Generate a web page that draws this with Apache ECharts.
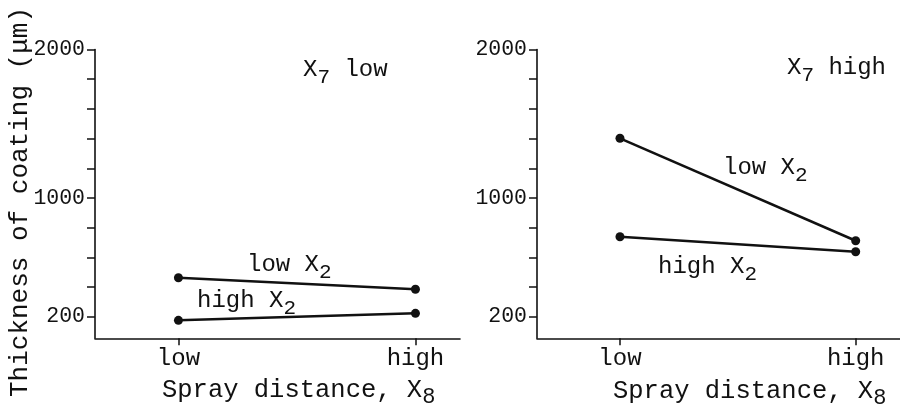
<!DOCTYPE html>
<html>
<head>
<meta charset="utf-8">
<script src="https://cdn.jsdelivr.net/npm/echarts@6/dist/echarts.min.js"></script>
<style>
html,body{margin:0;padding:0;background:#fff;}
#c{width:900px;height:408px;}
</style>
</head>
<body>
<div id="c"></div>
<script>
// ---- data ----
const xCategories = ['low', 'high'];           // spray distance X8 levels
const xPositions = [0, 1];
const yTickValues = [200, 400, 600, 800, 1000, 1200, 1400, 1600, 1800, 2000];
const yLabelValues = [200, 1000, 2000];
// Panel 1: X7 low
const leftLowX2 = [463, 385];
const leftHighX2 = [176, 223];
// Panel 2: X7 high
const rightLowX2 = [1402, 712];
const rightHighX2 = [739, 638];

const FONT = '"Liberation Mono", "DejaVu Sans Mono", monospace';
const BLACK = '#111';

const chart = echarts.init(document.getElementById('c'), null, {renderer: 'canvas'});

function xAxisCfg(gi) {
  return {
    gridIndex: gi, type: 'value', min: -0.352, max: 1.188,
    axisLine: {show: true, onZero: false, lineStyle: {color: BLACK, width: 1.6}},
    axisTick: {show: true, customValues: xPositions, length: 7, lineStyle: {color: BLACK, width: 1.5}},
    axisLabel: {customValues: xPositions, formatter: v => xCategories[Math.round(v)],
      fontFamily: FONT, fontSize: 24, color: BLACK, margin: 8},
    splitLine: {show: false}
  };
}
function yAxisCfg(gi) {
  return {
    gridIndex: gi, type: 'value', min: 55, max: 2000,
    axisLine: {show: true, onZero: false, lineStyle: {color: BLACK, width: 1.6}},
    axisTick: {show: true, customValues: yTickValues, length: 8, lineStyle: {color: BLACK, width: 1.5}},
    axisLabel: {customValues: yLabelValues, formatter: v => String(v),
      fontFamily: FONT, fontSize: 21.5, color: BLACK, margin: 10},
    splitLine: {show: false}
  };
}
function lineSeries(gi, vals) {
  return {
    type: 'line', xAxisIndex: gi, yAxisIndex: gi,
    data: xPositions.map((x, i) => [x, vals[i]]),
    symbol: 'circle', symbolSize: 9, showSymbol: true,
    lineStyle: {color: BLACK, width: 2.5},
    itemStyle: {color: BLACK},
    animation: false
  };
}

const rich = {
  n: {fontFamily: FONT, fontSize: 24, color: BLACK, verticalAlign: 'top', lineHeight: 24},
  s: {fontFamily: FONT, fontSize: 21, color: BLACK, verticalAlign: 'top', lineHeight: 21, padding: [9, 0, 0, 0]},
  N: {fontFamily: FONT, fontSize: 25.5, color: BLACK, verticalAlign: 'top', lineHeight: 26},
  S: {fontFamily: FONT, fontSize: 22, color: BLACK, verticalAlign: 'top', lineHeight: 22, padding: [9, 0, 0, 0]}
};
function txt(x, y, content) {
  return {type: 'text', left: x, top: y, style: {text: content, rich: rich, fill: BLACK}};
}

chart.setOption({
  backgroundColor: '#fff',
  animation: false,
  grid: [
    {left: 95, top: 49.5, width: 365, height: 288.8},
    {left: 537, top: 49.5, width: 363, height: 288.8}
  ],
  xAxis: [xAxisCfg(0), xAxisCfg(1)],
  yAxis: [yAxisCfg(0), yAxisCfg(1)],
  series: [
    lineSeries(0, leftLowX2), lineSeries(0, leftHighX2),
    lineSeries(1, rightLowX2), lineSeries(1, rightHighX2)
  ],
  graphic: [
    {type: 'text', x: 20, y: 202, rotation: Math.PI / 2,
      style: {text: 'Thickness of coating (μm)', font: '26px ' + FONT, fill: BLACK, align: 'center', verticalAlign: 'middle'}},
    txt(303, 58, '{n|X}{s|7}{n| low}'),
    txt(787, 56, '{n|X}{s|7}{n| high}'),
    txt(247, 253, '{n|low X}{s|2}'),
    txt(197, 289, '{n|high X}{s|2}'),
    txt(723, 156, '{n|low X}{s|2}'),
    txt(658, 255, '{n|high X}{s|2}'),
    txt(162, 377, '{N|Spray distance, X}{S|8}'),
    txt(613, 378, '{N|Spray distance, X}{S|8}')
  ]
});
</script>
</body>
</html>
